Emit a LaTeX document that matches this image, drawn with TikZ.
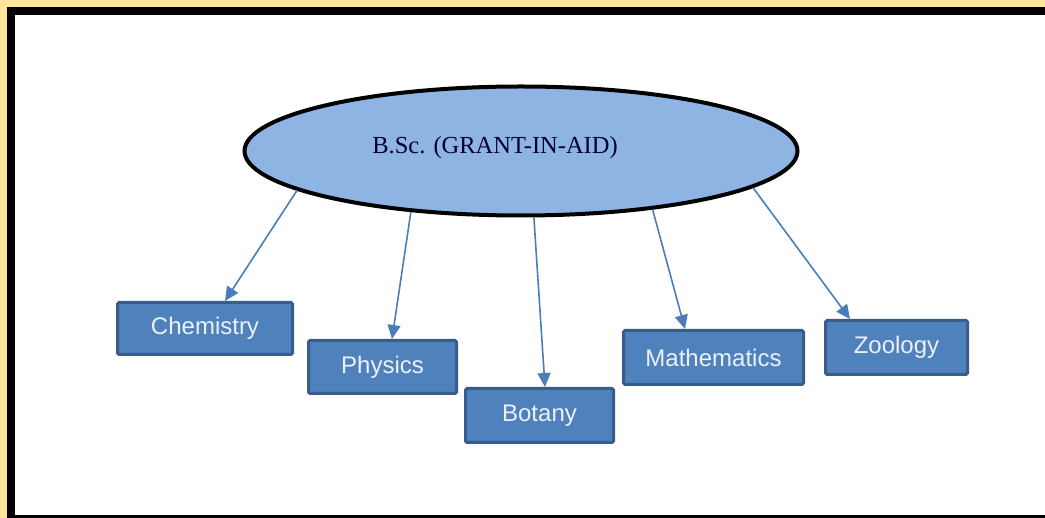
\documentclass[tikz,border=0pt]{standalone}
\usepackage{fontspec}
\setmainfont{Liberation Serif}
\newfontfamily\arialfont{Liberation Sans}
\usetikzlibrary{shapes.geometric,arrows.meta}
\definecolor{frameYellow}{RGB}{255,229,153}
\definecolor{ellFill}{RGB}{141,180,226}
\definecolor{boxFill}{RGB}{79,129,189}
\definecolor{boxLine}{RGB}{56,93,138}
\definecolor{arrowBlue}{RGB}{74,126,187}
\definecolor{boxText}{RGB}{235,241,250}
\begin{document}
\begin{tikzpicture}[x=1pt, y=-1pt,
	subjBox/.style={rectangle, draw=boxLine, fill=boxFill, line width=3pt, rounded corners=1.5pt, inner sep=0pt, text=boxText, font=\arialfont\fontsize{24}{28}\selectfont},
	subjArrow/.style={draw=arrowBlue, line width=1.6pt, -{Triangle[length=14pt,width=13pt]}}]
\useasboundingbox (0,0) rectangle (1045,518);
\fill[frameYellow] (0,0) rectangle (1045,518);
\fill[black] (7,7) rectangle (1045,518);
\fill[white] (15,15) rectangle (1045,515);

\node[ellipse, draw=black, fill=ellFill, line width=4pt, minimum width=553pt, minimum height=129pt, inner sep=0pt](bscEllipse) at (521,151){};
	\node[font=\fontsize{24.5}{29}\selectfont, text=black!80!blue](bscLabel) at (495,148){B.Sc. (GRANT-IN-AID)};

	\node[subjBox, minimum width=175pt, minimum height=52pt](chemBox) at (205,328.5){Chemistry};
	\node[subjBox, minimum width=148pt, minimum height=53pt](physBox) at (382.5,367){Physics};
	\node[subjBox, minimum width=148pt, minimum height=54pt](botBox) at (539.5,415.5){Botany};
	\node[subjBox, minimum width=180pt, minimum height=54pt](mathBox) at (713.5,357.5){Mathematics};
	\node[subjBox, minimum width=142pt, minimum height=54pt](zooBox) at (896.5,347.5){Zoology};

	\draw[subjArrow] (bscEllipse.190) -- ([xshift=20pt]chemBox.north);
	\draw[subjArrow] (bscEllipse.209) -- ([xshift=9.5pt]physBox.north);
	\draw[subjArrow] (bscEllipse.281) -- ([xshift=5.5pt]botBox.north);
	\draw[subjArrow] (bscEllipse.336) -- ([xshift=-28.5pt]mathBox.north);
	\draw[subjArrow] (bscEllipse.351) -- ([xshift=-46.5pt]zooBox.north);
\end{tikzpicture}
\end{document}
